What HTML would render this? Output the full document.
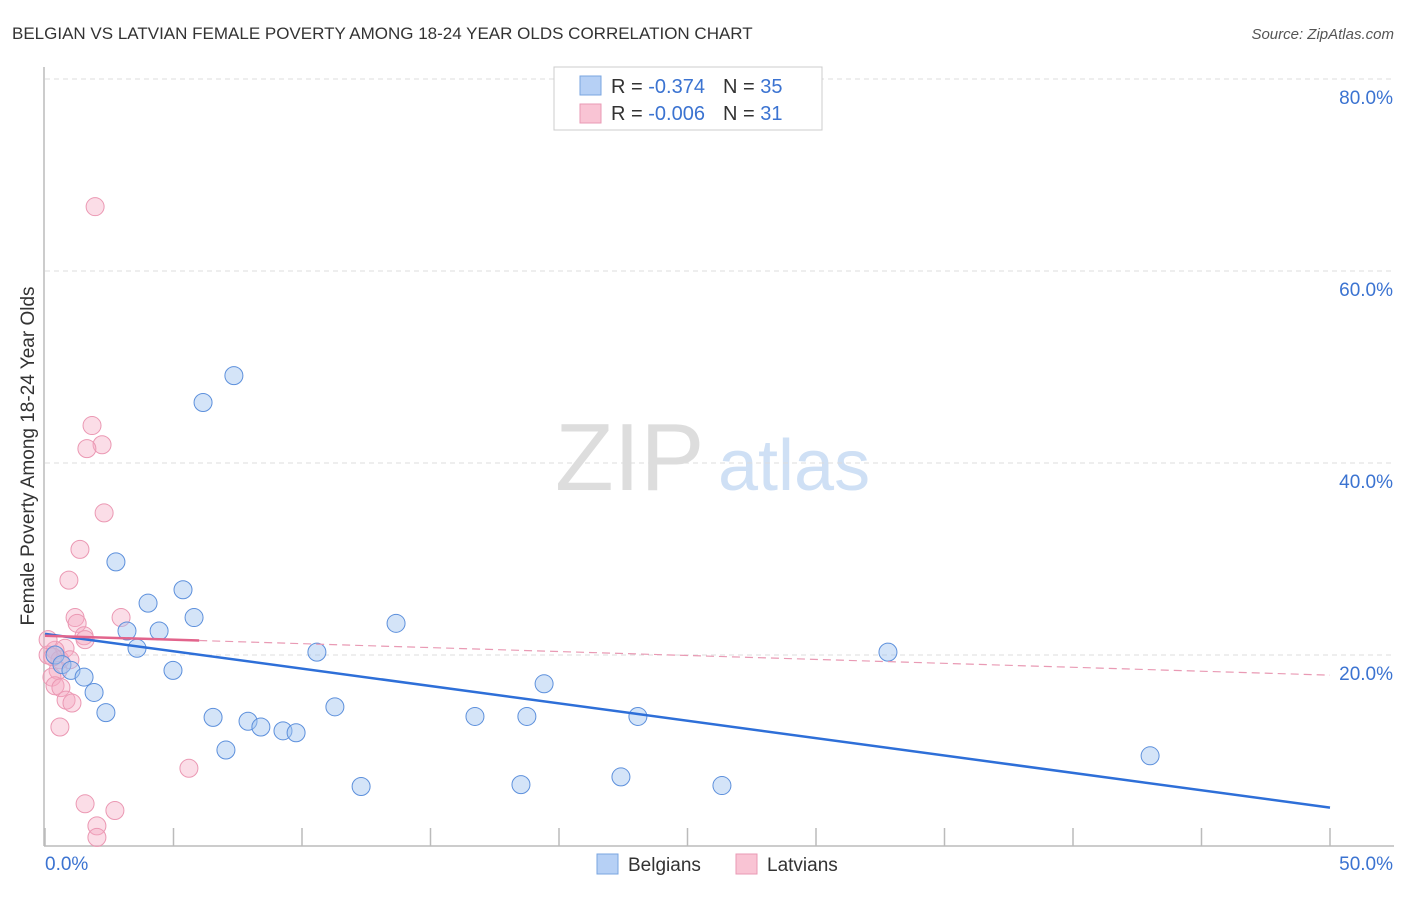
<!DOCTYPE html>
<html><head><meta charset="utf-8"><style>
body{margin:0;background:#fff;font-family:"Liberation Sans",sans-serif}
svg text{font-family:"Liberation Sans",sans-serif}
</style></head><body>
<svg id="c" width="1406" height="892">
<text x="12" y="39" font-size="17" fill="#333">BELGIAN VS LATVIAN FEMALE POVERTY AMONG 18-24 YEAR OLDS CORRELATION CHART</text>
<text x="1394" y="39" font-size="15" fill="#555" text-anchor="end" font-style="italic">Source: ZipAtlas.com</text>
<text x="34" y="456" font-size="19" fill="#333" text-anchor="middle" transform="rotate(-90 34 456)">Female Poverty Among 18-24 Year Olds</text>
<text x="555" y="490" font-size="96" fill="#ddd" font-family="Liberation Serif">ZIP</text>
<text x="718" y="490" font-size="72" fill="#cfe0f5">atlas</text>
<g id="grid"></g><g id="marks"></g>
<g>
<rect x="554" y="67" width="268" height="63" fill="#fff" stroke="#ccc"/>
<rect x="580" y="76" width="21" height="19" fill="#b6d0f5" stroke="#7aa6e0"/>
<rect x="580" y="104" width="21" height="19" fill="#f9c4d4" stroke="#e99ab4"/>
<text x="611" y="93" font-size="20" fill="#333">R = <tspan fill="#3b73d1"> -0.374</tspan><tspan dx="18">N = </tspan><tspan fill="#3b73d1">35</tspan></text>
<text x="611" y="120" font-size="20" fill="#333">R = <tspan fill="#3b73d1">-0.006</tspan><tspan dx="18">N = </tspan><tspan fill="#3b73d1"> 31</tspan></text>
</g>
<rect x="597" y="854" width="21" height="20" fill="#b6d0f5" stroke="#7aa6e0"/>
<text x="628" y="871" font-size="19" fill="#333">Belgians</text>
<rect x="736" y="854" width="21" height="20" fill="#f9c4d4" stroke="#e99ab4"/>
<text x="767" y="871" font-size="19" fill="#333">Latvians</text>
</svg>
<script>
const yTicks=[20,40,60,80];
const yTickLabels=["20.0%","40.0%","60.0%","80.0%"];
const xTickVals=[0,5,10,15,20,25,30,35,40,45,50];
const belgX=[7.35,6.15,2.76,5.37,4.01,5.8,3.19,4.44,3.58,13.66,10.58,32.8,4.98,0.39,0.66,1.01,1.52,1.91,19.42,2.37,11.28,6.54,7.9,8.4,9.26,9.77,16.73,18.75,23.07,7.04,43.0,22.41,12.3,18.52,26.34];
const belgY=[49.1,46.3,29.7,26.8,25.4,23.9,22.5,22.5,20.7,23.3,20.3,20.3,18.4,20.0,19.0,18.4,17.7,16.1,17.0,14.0,14.6,13.5,13.1,12.5,12.1,11.9,13.6,13.6,13.6,10.1,9.5,7.3,6.3,6.5,6.4];
const latX=[1.95,1.83,2.22,1.63,2.3,1.36,0.93,1.17,1.25,2.96,1.52,1.56,0.78,0.39,0.12,0.58,0.97,0.51,0.27,0.39,0.62,0.82,1.05,0.58,5.6,1.56,2.72,2.02,2.02,0.12,0.3];
const latY=[66.7,43.9,41.9,41.5,34.8,31.0,27.8,23.9,23.3,23.9,22.0,21.6,20.7,20.5,20.0,19.5,19.5,18.4,17.7,16.8,16.6,15.3,15.0,12.5,8.2,4.5,3.8,2.2,1.0,21.6,19.8];
const belgTrend=[22.2,4.1];
const latTrend=[22.0,17.9];
const NS="http://www.w3.org/2000/svg";
const X=v=>45+v*25.7, Y=v=>847-v*9.6;
function mk(t,a,p){const e=document.createElementNS(NS,t);for(const k in a)e.setAttribute(k,a[k]);p.appendChild(e);return e;}
const g=document.getElementById('grid'), m=document.getElementById('marks');
yTicks.forEach((v,i)=>{
 const l=mk('line',{x1:45,x2:1394,y1:Y(v),y2:Y(v),stroke:'#ddd','stroke-dasharray':'5,4'},g);
 
 
 const t=mk('text',{x:1393,y:Y(v)+25,'font-size':19,fill:'#3b73d1','text-anchor':'end'},g);
 t.textContent=yTickLabels[i];
 
 
});
const ax=mk('line',{x1:44,x2:44,y1:67,y2:846,stroke:'#bbb','stroke-width':1.5},g);


const bx=mk('line',{x1:44,x2:1394,y1:846,y2:846,stroke:'#bbb','stroke-width':1.5},g);


xTickVals.forEach(v=>{const t=mk('line',{x1:X(v),x2:X(v),y1:828,y2:846,stroke:'#bbb','stroke-width':1.5},g);
 
 });
const x0=mk('text',{x:45,y:870,'font-size':19,fill:'#3b73d1'},g);x0.textContent='0.0%';


const x1=mk('text',{x:1393,y:870,'font-size':19,fill:'#3b73d1','text-anchor':'end'},g);x1.textContent='50.0%';


latX.forEach((v,i)=>{const c=mk('circle',{cx:X(v),cy:Y(latY[i]),r:9,fill:'rgba(246,170,196,0.4)',stroke:'#eb98b3','stroke-width':1},m);
 
 });
belgX.forEach((v,i)=>{const c=mk('circle',{cx:X(v),cy:Y(belgY[i]),r:9,fill:'rgba(160,196,240,0.45)',stroke:'#5d90dc','stroke-width':1},m);
 
 });
const bl=mk('line',{x1:X(0),y1:Y(belgTrend[0]),x2:X(50),y2:Y(belgTrend[1]),stroke:'#2e6fd8','stroke-width':2.5},m);


const ly=v=>latTrend[0]+(latTrend[1]-latTrend[0])*v/50;
const ls=mk('line',{x1:X(0),y1:Y(ly(0)),x2:X(6),y2:Y(ly(6)),stroke:'#e2648c','stroke-width':2.5},m);


const ld=mk('line',{x1:X(6),y1:Y(ly(6)),x2:X(50),y2:Y(ly(50)),stroke:'#e99ab4','stroke-width':1.2,'stroke-dasharray':'8,5'},m);


</script>
</body></html>
